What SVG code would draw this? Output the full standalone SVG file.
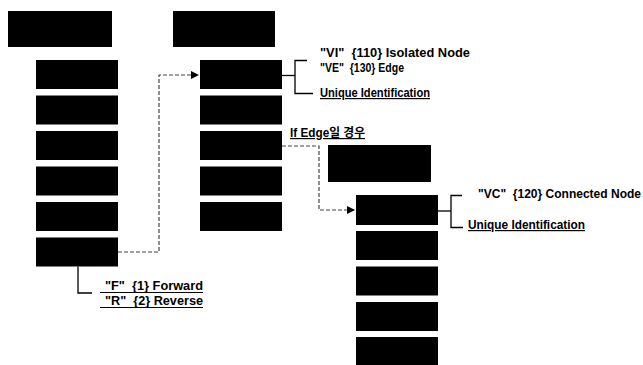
<svg xmlns="http://www.w3.org/2000/svg" width="643" height="365" viewBox="0 0 643 365">
<style>
.b{fill:#000}
.t{font-family:"Liberation Sans",Arial,"Noto Sans CJK KR",sans-serif;font-weight:bold;font-size:12px;fill:#000}
.u{text-decoration:underline}
.ln{fill:none;stroke:#000;stroke-width:1.3}
.ul{fill:none;stroke:#000;stroke-width:1.1}
.dash{fill:none;stroke:#444;stroke-width:1.2;stroke-dasharray:4 2}
</style>
<defs>
<marker id="arr" viewBox="0 0 8 8" refX="8" refY="4" markerWidth="8" markerHeight="8" markerUnits="userSpaceOnUse" orient="auto">
<path d="M0,0 L8,4 L0,8 Z" fill="#000"/>
</marker>
</defs>
<rect width="643" height="365" fill="#fff"/>
<g id="col1">
<rect id="h1" class="b" x="8" y="11" width="104" height="36"/>
<rect id="a1" class="b" x="36" y="60" width="82" height="29"/>
<rect id="a2" class="b" x="36" y="95.5" width="82" height="29"/>
<rect id="a3" class="b" x="36" y="131" width="82" height="29"/>
<rect id="a4" class="b" x="36" y="166.5" width="82" height="29"/>
<rect id="a5" class="b" x="36" y="202" width="82" height="29"/>
<rect id="a6" class="b" x="36" y="237.5" width="82" height="29"/>
</g>
<g id="col2">
<rect id="h2" class="b" x="173" y="11" width="102" height="36"/>
<rect id="b1" class="b" x="200" y="60" width="82" height="29"/>
<rect id="b2" class="b" x="200" y="95.5" width="82" height="29"/>
<rect id="b3" class="b" x="200" y="131" width="82" height="29"/>
<rect id="b4" class="b" x="200" y="166.5" width="82" height="29"/>
<rect id="b5" class="b" x="200" y="202" width="82" height="29"/>
</g>
<g id="col3">
<rect id="h3" class="b" x="328" y="145" width="103" height="37"/>
<rect id="c1" class="b" x="356" y="195" width="82" height="30"/>
<rect id="c2" class="b" x="356" y="231" width="82" height="29"/>
<rect id="c3" class="b" x="356" y="266.5" width="82" height="29"/>
<rect id="c4" class="b" x="356" y="302" width="82" height="29"/>
<rect id="c5" class="b" x="356" y="337" width="82" height="30"/>
</g>
<g id="connectors">
<polyline class="dash" points="118,252 159,252 159,75 199,75" marker-end="url(#arr)"/>
<polyline class="dash" points="282,146 319,146 319,210 355,210" marker-end="url(#arr)"/>
<polyline class="ln" points="282,75.5 295,75.5"/>
<polyline class="ln" points="307,60.5 295,60.5 295,93.5 313,93.5"/>
<polyline class="ln" points="438,211 451,211"/>
<polyline class="ln" points="462,195.5 451,195.5 451,227.5 463,227.5"/>
<polyline class="ln" points="78,266.5 78,293 92,293"/>
</g>
<g id="labels">
<text class="t" x="320" y="57" textLength="150" lengthAdjust="spacingAndGlyphs" xml:space="preserve">"VI"  {110} Isolated Node</text>
<text class="t" x="320" y="72" textLength="84" lengthAdjust="spacingAndGlyphs" xml:space="preserve">"VE"  {130} Edge</text>
<text class="t u" x="320" y="97" textLength="110" lengthAdjust="spacingAndGlyphs">Unique Identification</text>
<text class="t u" x="290" y="137" textLength="75" lengthAdjust="spacingAndGlyphs">If Edge일 경우</text>
<text class="t" x="478" y="198" textLength="163" lengthAdjust="spacingAndGlyphs" xml:space="preserve">"VC"  {120} Connected Node</text>
<text class="t u" x="468" y="229" textLength="117" lengthAdjust="spacingAndGlyphs">Unique Identification</text>
<text class="t" x="105" y="290" textLength="98" lengthAdjust="spacingAndGlyphs" xml:space="preserve">"F"  {1} Forward</text>
<line class="ul" x1="100" y1="292.5" x2="203" y2="292.5"/>
<text class="t" x="105" y="305" textLength="98" lengthAdjust="spacingAndGlyphs" xml:space="preserve">"R"  {2} Reverse</text>
<line class="ul" x1="100" y1="307.5" x2="203" y2="307.5"/>
</g>
</svg>
